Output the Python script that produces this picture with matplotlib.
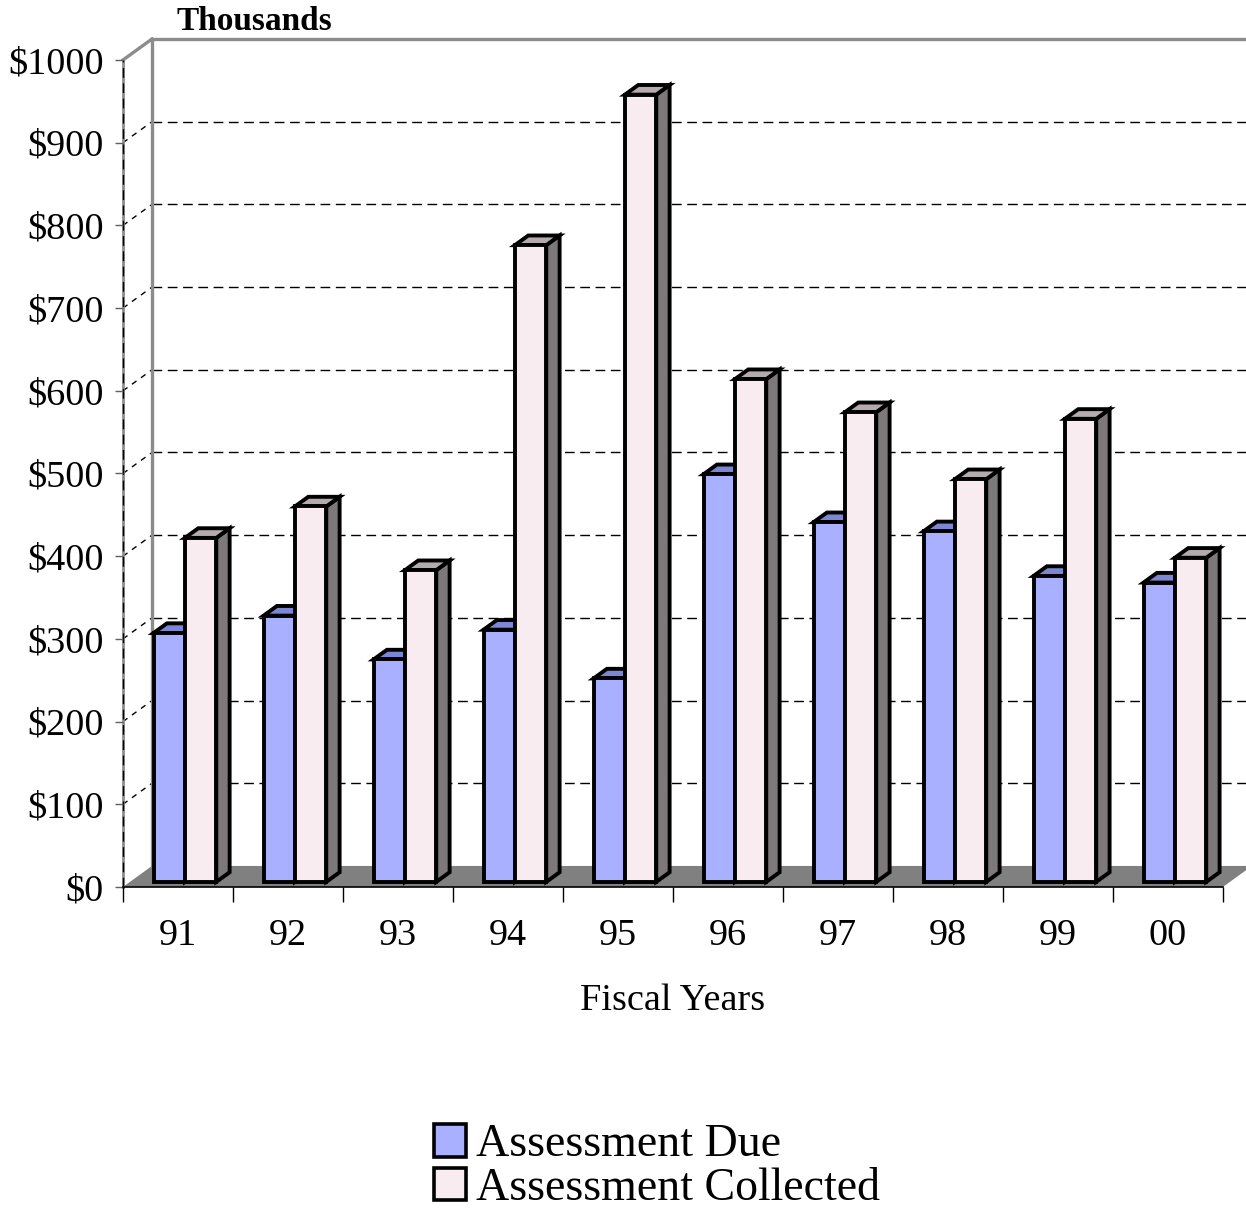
import numpy as np
import matplotlib.pyplot as plt
from matplotlib.patches import Polygon, Patch

# Assessment figures in thousands of dollars, by fiscal year
years = ['91', '92', '93', '94', '95', '96', '97', '98', '99', '00']
due = [301, 322, 269, 305, 246, 493, 435, 424, 370, 362]
collected = [416, 454, 377, 770, 952, 608, 568, 487, 560, 392]

plt.rcParams['font.family'] = ['Liberation Serif', 'DejaVu Serif']

fig = plt.figure(figsize=(12.46, 12.17), dpi=100)
ax = fig.add_axes([0.0987, 0.2712, 0.8828, 0.6795])
ax.set_xlim(0, 10)
ax.set_ylim(0, 1000)

# fake 3D: depth d in [0, 1] shifts a point right and up
DX, DY = 0.2636, 25.4
D0, D1 = 0.24, 0.70      # bar depth span
BAR_W = 0.285


def proj(x, v, d):
    return (x + d * DX, v + d * DY)


def poly(pts, fc, ec='none', lw=0, z=1):
    ax.add_patch(Polygon(pts, closed=True, fc=fc, ec=ec, lw=lw, zorder=z,
                         clip_on=False, joinstyle='miter'))


def line(p, q, **kw):
    ax.plot([p[0], q[0]], [p[1], q[1]], clip_on=False, **kw)


# floor
poly([proj(0, 0, 0), proj(10, 0, 0), proj(10, 0, 1), proj(0, 0, 1)], '#808080', z=1)

# gridlines on back wall and side wall
for v in range(100, 1000, 100):
    line(proj(0, v, 1), proj(10, v, 1), color='black', lw=1, ls=(0, (7, 4)), zorder=0.5)
    line(proj(0, v, 0), proj(0, v, 1), color='black', lw=1, ls=(0, (4, 4)), zorder=0.5)

# wall edges
wall = dict(color='#8c8c8c', lw=2.4, zorder=0.6, solid_joinstyle='miter')
line(proj(0, 0, 1), proj(0, 1000, 1), **wall)
line(proj(0, 1000, 1), proj(10, 1000, 1), **wall)
line(proj(0, 1000, 0), proj(0, 1000, 1), **wall)
line(proj(0, 0, 0), proj(0, 1000, 0), color='#8c8c8c', lw=2, zorder=0.7)
line(proj(0, 0, 0), proj(0, 1000, 0), color='black', lw=1, ls=(0, (7, 4)), zorder=0.8)


def bar3d(x0, h, front, top, side, z):
    x1 = x0 + BAR_W
    kw = dict(ec='black', lw=2.8, z=z)
    poly([proj(x1, 0, D0), proj(x1, 0, D1), proj(x1, h, D1), proj(x1, h, D0)], side, **kw)
    poly([proj(x0, h, D0), proj(x1, h, D0), proj(x1, h, D1), proj(x0, h, D1)], top, **kw)
    poly([proj(x0, 0, D0), proj(x1, 0, D0), proj(x1, h, D0), proj(x0, h, D0)], front, **kw)


due_c = ('#a8b0ff', '#7d86d2', '#5a62a8')
col_c = ('#f9ecf1', '#b3abae', '#7d797b')

for i, (d, c) in enumerate(zip(due, collected)):
    bar3d(i + 0.5 - BAR_W, d, *due_c, z=3 + 2 * i)
    bar3d(i + 0.5, c, *col_c, z=4 + 2 * i)

# axes, ticks, labels
for s in ['left', 'top', 'right']:
    ax.spines[s].set_visible(False)
ax.spines['bottom'].set_color('black')
ax.spines['bottom'].set_linewidth(1.2)
ax.spines['bottom'].set_zorder(2)

ax.set_yticks(range(0, 1001, 100))
ax.set_yticklabels([f'${v}' for v in range(0, 1001, 100)])
ax.tick_params(axis='y', length=5.8, width=1, color='#606060', pad=8, labelsize=27.5)

ax.set_xticks(np.arange(0, 11))
ax.set_xticklabels([])
ax.set_xticks(np.arange(10) + 0.5, minor=True)
ax.set_xticklabels(years, minor=True)
ax.tick_params(axis='x', which='major', length=10.8, width=1, color='black')
ax.tick_params(axis='x', which='minor', length=0, pad=23, labelsize=27.5)
ax.set_xlabel('Fiscal Years', fontsize=27.5, labelpad=22)

fig.text(254 / 1246, 1 - 22 / 1217, 'Thousands', fontsize=24, fontweight='bold',
         ha='center', va='center')

handles = [Patch(fc=due_c[0], ec='black', lw=2.6, label='Assessment Due'),
           Patch(fc=col_c[0], ec='black', lw=2.6, label='Assessment Collected')]
fig.legend(handles=handles, loc='upper left', bbox_to_anchor=(434 / 1246, 1 - 1124 / 1217),
           frameon=False, fontsize=33, handlelength=0.7, handleheight=0.7,
           handletextpad=0.22, labelspacing=0.02, borderpad=0, borderaxespad=0)

fig.savefig('out.png', dpi=100)
